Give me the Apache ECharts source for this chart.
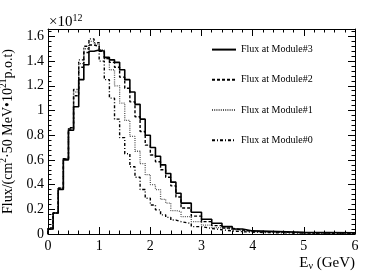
<!DOCTYPE html>
<html><head><meta charset="utf-8">
<script src="https://cdn.jsdelivr.net/npm/echarts@6/dist/echarts.min.js"></script>
<style>html,body{margin:0;padding:0;background:#fff}#c{width:374px;height:280px}</style>
</head><body><div id="c"></div>
<script>
const binEdges = [0,0.1,0.2,0.3,0.4,0.5,0.6,0.7,0.8,0.9,1.0,1.1,1.2,1.3,1.4,1.5,1.6,1.7,1.8,1.9,2.0,2.1,2.2,2.3,2.4,2.5,2.6,2.8,3.0,3.2,3.4,3.6,3.8,4.0,4.5,5.0,6.0];
const seriesNames = ['Flux at Module#3','Flux at Module#2','Flux at Module#1','Flux at Module#0'];
const fluxModule3 = [0.04,0.17,0.36,0.60,0.84,1.03,1.25,1.37,1.48,1.49, 1.48,1.43,1.41,1.39,1.33,1.25,1.15,1.05,0.93,0.80, 0.70,0.63,0.56,0.49,0.42,0.33, 0.25,0.176,0.12,0.087,0.06,0.04,0.025, 0.02,0.013,0.01];
const fluxModule2 = [0.04,0.17,0.37,0.61,0.85,1.12,1.35,1.47,1.53,1.52, 1.48,1.42,1.39,1.35,1.27,1.18,1.07,0.95,0.83,0.72, 0.64,0.585,0.52,0.46,0.39,0.30, 0.21,0.145,0.10,0.068,0.048,0.032,0.022, 0.016,0.01,0.007];
const fluxModule1 = [0.04,0.17,0.37,0.61,0.85,1.15,1.38,1.50,1.56,1.54, 1.49,1.42,1.33,1.20,1.06,0.92,0.79,0.67,0.57,0.48, 0.40,0.36,0.28,0.25,0.19,0.18, 0.14,0.10,0.072,0.052,0.038,0.028,0.02, 0.014,0.009,0.006];
const fluxModule0 = [0.05,0.17,0.37,0.61,0.86,1.17,1.41,1.52,1.58,1.55, 1.40,1.25,1.10,0.93,0.78,0.65,0.545,0.46,0.36,0.29, 0.235,0.195,0.155,0.135,0.113,0.10, 0.085,0.06,0.045,0.034,0.025,0.019,0.014, 0.01,0.007,0.005];
const xTickLabels = ['0','1','2','3','4','5','6'];
const yTickLabels = ['0','0.2','0.4','0.6','0.8','1','1.2','1.4','1.6'];

function hist(vals){
  const pts = [[binEdges[0], 0]];
  for (let i = 0; i < vals.length; i++) pts.push([binEdges[i], vals[i]]);
  pts.push([binEdges[binEdges.length-1], vals[vals.length-1]]);
  return pts;
}
const FONT = 'Liberation Serif';
const XMIN = 0, XMAX = 6, YMIN = 0, YMAX = 1.66;
const chart = echarts.init(document.getElementById('c'), null, {renderer:'canvas'});
function xAxis(pos, labels, name){
  return {
    type: 'value', position: pos, min: XMIN, max: XMAX, interval: 1,
    axisLine: {show: true, onZero: false, lineStyle: {color: '#000', width: 1}},
    splitLine: {show: false},
    axisTick: {show: true, inside: true, length: 7, lineStyle: {color: '#000'}},
    minorTick: {show: true, splitNumber: 5, length: 3.5, lineStyle: {color: '#000'}},
    axisLabel: labels ? {show: true, margin: 5, color: '#000', fontFamily: FONT, fontSize: 14,
      formatter: v => xTickLabels[Math.round(v)] || ''} : {show: false},
    name: name || '', nameLocation: 'end', nameGap: 0,
    nameTextStyle: name ? {align: 'right', verticalAlign: 'top', padding: [21, 0, 0, 0],
      rich: {t: {fontFamily: FONT, fontSize: 15, color: '#000'},
             s: {fontFamily: FONT, fontSize: 10, color: '#000', verticalAlign: 'bottom', padding: [6,0,0,0]}}} : {}
  };
}
function yAxis(pos, labels, name, minor){
  return {
    type: 'value', position: pos, min: YMIN, max: YMAX, interval: minor ? 0.04 : 0.2,
    axisLine: {show: !minor, onZero: false, lineStyle: {color: '#000', width: 1}},
    splitLine: {show: false},
    axisTick: {show: true, inside: true, length: minor ? 3.5 : 7, lineStyle: {color: '#000'}},
    axisLabel: labels ? {show: true, margin: 4, color: '#000', fontFamily: FONT, fontSize: 14, showMaxLabel: false,
      formatter: v => { const i = Math.round(v / 0.2); return Math.abs(v - i*0.2) < 1e-6 ? (yTickLabels[i] || '') : ''; }} : {show: false},
    name: name || '', nameLocation: 'middle', nameGap: 29, nameRotate: 90,
    nameTextStyle: name ? {rich: {t: {fontFamily: FONT, fontSize: 14, color: '#000', lineHeight: 20},
      s: {fontFamily: FONT, fontSize: 9.5, color: '#000', verticalAlign: 'top', lineHeight: 20}}} : {}
  };
}
const styles = [
  {color: '#000', width: 1.6, type: 'solid'},
  {color: '#000', width: 1.4, type: [3, 2]},
  {color: '#555', width: 1.3, type: [1, 1.2]},
  {color: '#000', width: 1.4, type: [3, 2, 1, 2]}
];
const allData = [fluxModule3, fluxModule2, fluxModule1, fluxModule0];
chart.setOption({
  animation: false,
  backgroundColor: '#fff',
  title: {text: '×10{s|12}', left: 44, top: 8,
    textStyle: {fontFamily: FONT, fontSize: 15, fontWeight: 'normal', color: '#000',
      rich: {s: {fontFamily: FONT, fontSize: 10, color: '#000', verticalAlign: 'top', lineHeight: 18}}}},
  grid: {left: 48, right: 19, top: 29, bottom: 46, containLabel: false, outerBoundsMode: 'none'},
  legend: {orient: 'vertical', left: 206, top: 39, itemWidth: 24, itemHeight: 14, itemGap: 19,
    data: seriesNames,
    textStyle: {fontFamily: FONT, fontSize: 10, color: '#000'}},
  xAxis: [xAxis('bottom', true, '{t|E}{s|ν}{t| (GeV)}'), xAxis('top', false)],
  yAxis: [yAxis('left', true, '{t|Flux/(cm}{s|2}{t|·50 MeV•10}{s|21}{t|p.o.t)}'), yAxis('right', false),
          yAxis('left', false, null, true), yAxis('right', false, null, true)],
  series: allData.map((d, i) => ({
    name: seriesNames[i], type: 'line', step: 'end', symbol: 'none', showSymbol: false,
    xAxisIndex: 0, yAxisIndex: 0, data: hist(d), lineStyle: styles[i],
    itemStyle: {color: styles[i].color, opacity: 0},
    z: 10 - i
  }))
});
</script></body></html>
